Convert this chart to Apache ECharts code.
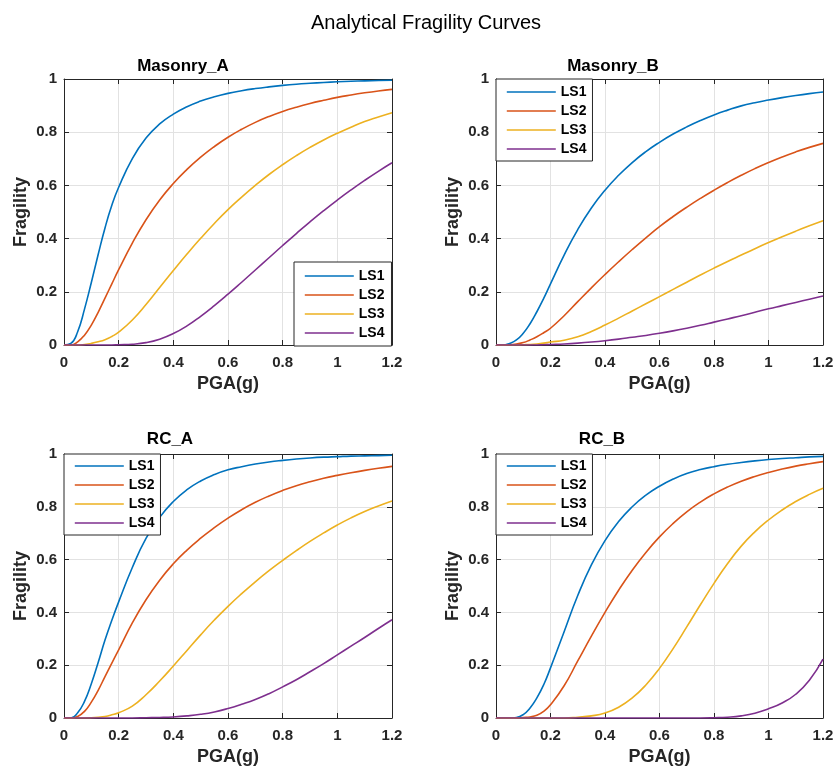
<!DOCTYPE html>
<html>
<head>
<meta charset="utf-8">
<title>Analytical Fragility Curves</title>
<script src="https://cdn.jsdelivr.net/npm/echarts@6/dist/echarts.min.js"></script>
<style>
  html, body { margin: 0; padding: 0; background: #fff; }
  #chart { width: 837px; height: 770px; }
</style>
</head>
<body>
<div id="chart"></div>
<script>
// Peak ground acceleration samples (g), denser where the curves rise steeply
const pga = [0, 0.025, 0.05, 0.075, 0.1, 0.125, 0.15, 0.175, 0.2, 0.25, 0.3, 0.35, 0.4, 0.45, 0.5,
  0.55, 0.6, 0.65, 0.7, 0.75, 0.8, 0.85, 0.9, 0.95, 1.0, 1.05, 1.1, 1.15, 1.2];

const limitStates = ['LS1', 'LS2', 'LS3', 'LS4'];
const panelTitles = ['Masonry_A', 'Masonry_B', 'RC_A', 'RC_B'];

// Masonry_A
const masonryA_LS1 = [0, .006, .05, .135, .235, .34, .44, .525, .593, .701, .778, .831, .868, .896, .917, .933, .946, .956, .964, .9705, .976, .9805, .984, .987, .9895, .9915, .993, .9942, .9952];
const masonryA_LS2 = [0, 0, .012, .037, .075, .123, .176, .23, .283, .383, .471, .545, .607, .66, .706, .746, .781, .811, .837, .859, .878, .894, .908, .92, .931, .94, .948, .955, .961];
const masonryA_LS3 = [0, 0, 0, .002, .006, .012, .02, .032, .048, .094, .152, .216, .28, .342, .401, .457, .509, .556, .6, .641, .678, .712, .743, .771, .796, .819, .84, .857, .873];
const masonryA_LS4 = [0, 0, 0, 0, 0, 0, 0, 0, .001, .003, .009, .022, .043, .072, .108, .148, .191, .236, .282, .328, .374, .419, .463, .505, .545, .583, .619, .653, .685];

// Masonry_B
const masonryB_LS1 = [0, 0, .006, .019, .044, .08, .125, .175, .23, .338, .434, .515, .582, .638, .686, .727, .762, .793, .82, .844, .865, .883, .899, .911, .921, .93, .938, .945, .951];
const masonryB_LS2 = [0, 0, .001, .004, .009, .019, .031, .046, .063, .11, .163, .215, .265, .313, .359, .403, .445, .483, .518, .551, .582, .611, .638, .663, .686, .707, .726, .743, .758];
const masonryB_LS3 = [0, 0, 0, 0, .001, .002, .004, .007, .011, .018, .031, .051, .075, .101, .128, .155, .182, .209, .236, .263, .289, .314, .338, .362, .385, .407, .428, .448, .467];
const masonryB_LS4 = [0, 0, 0, 0, 0, 0, 0, .001, .002, .004, .007, .011, .016, .022, .029, .036, .044, .053, .063, .074, .086, .098, .11, .123, .136, .148, .16, .172, .184];

// RC_A
const rcA_LS1 = [0, 0, .02, .063, .13, .21, .295, .37, .44, .57, .68, .76, .82, .865, .898, .922, .94, .952, .962, .97, .976, .981, .985, .988, .99, .992, .993, .994, .995];
const rcA_LS2 = [0, 0, .006, .025, .06, .105, .157, .208, .258, .36, .448, .522, .584, .636, .681, .721, .757, .789, .817, .841, .862, .88, .895, .908, .919, .929, .938, .946, .953];
const rcA_LS3 = [0, 0, 0, 0, .001, .003, .006, .012, .02, .045, .088, .14, .197, .256, .315, .371, .423, .471, .516, .558, .597, .634, .669, .701, .731, .758, .782, .803, .822];
const rcA_LS4 = [0, 0, 0, 0, 0, 0, 0, 0, 0, 0, .001, .002, .004, .008, .014, .023, .036, .052, .07, .092, .118, .145, .175, .206, .239, .272, .305, .339, .372];

// RC_B
const rcB_LS1 = [0, 0, 0, .002, .013, .038, .076, .126, .19, .327, .464, .58, .672, .744, .8, .844, .878, .905, .926, .941, .952, .961, .968, .974, .979, .983, .986, .989, .991];
const rcB_LS2 = [0, 0, 0, 0, .002, .004, .01, .025, .05, .122, .216, .31, .4, .484, .56, .627, .686, .737, .781, .818, .849, .875, .897, .915, .93, .943, .954, .963, .971];
const rcB_LS3 = [0, 0, 0, 0, 0, 0, 0, 0, 0, 0, .003, .008, .019, .041, .076, .125, .188, .263, .345, .429, .51, .585, .651, .705, .75, .788, .82, .847, .87];
const rcB_LS4 = [0, 0, 0, 0, 0, 0, 0, 0, 0, 0, 0, 0, 0, 0, 0, 0, 0, 0, 0, 0, .001, .003, .008, .018, .035, .057, .09, .143, .223];

const panelCurves = [
  [masonryA_LS1, masonryA_LS2, masonryA_LS3, masonryA_LS4],
  [masonryB_LS1, masonryB_LS2, masonryB_LS3, masonryB_LS4],
  [rcA_LS1, rcA_LS2, rcA_LS3, rcA_LS4],
  [rcB_LS1, rcB_LS2, rcB_LS3, rcB_LS4]
];

const lineColors = ['#0072BD', '#D95319', '#EDB120', '#7E2F8E'];
const axisColor = '#262626';
const gridColor = '#e2e2e2';
const fontFamily = '"Liberation Sans", Arial, Helvetica, sans-serif';

// Plot rectangles for the 2x2 layout
const grids = [
  { left: 64, top: 79, width: 328, height: 266 },
  { left: 496, top: 79, width: 327, height: 266 },
  { left: 64, top: 454, width: 328, height: 264 },
  { left: 496, top: 454, width: 327, height: 264 }
];

// Legend boxes
const legends = [
  { left: 294, top: 262, padding: [7, 7, 6, 10] },
  { left: 496, top: 79, padding: [6, 6, 5, 10] },
  { left: 64, top: 454, padding: [5, 6, 5, 10] },
  { left: 496, top: 454, padding: [5, 6, 5, 10] }
];

const subTitleX = [183, 613, 170, 602];
const subTitleY = [58, 58, 431, 431];

const fmt = v => String(+v.toFixed(1));

const option = {
  animation: false,
  backgroundColor: '#fff',
  title: [{
    text: 'Analytical Fragility Curves',
    left: 426, top: 13, textAlign: 'center', padding: 0,
    textStyle: { fontFamily, fontSize: 20, fontWeight: 'normal', color: '#000' }
  }],
  grid: [],
  xAxis: [],
  yAxis: [],
  legend: [],
  series: []
};

grids.forEach((g, i) => {
  option.grid.push(Object.assign({ show: false, containLabel: false }, g));

  option.title.push({
    text: panelTitles[i],
    left: subTitleX[i], top: subTitleY[i], textAlign: 'center', padding: 0,
    textStyle: { fontFamily, fontSize: 17, fontWeight: 'bold', color: '#000' }
  });

  const tickStyle = { show: true, inside: true, length: 5, lineStyle: { color: axisColor, width: 1 } };
  const lineStyle = { show: true, onZero: false, lineStyle: { color: axisColor, width: 1 } };
  const labelStyle = { fontFamily, fontSize: 15, fontWeight: 'bold', color: '#262626' };

  // x axis along the bottom edge
  option.xAxis.push({
    type: 'value', gridIndex: i, min: 0, max: 1.2, interval: 0.2, position: 'bottom',
    name: 'PGA(g)', nameLocation: 'middle', nameGap: 30,
    nameTextStyle: { fontFamily, fontSize: 18, fontWeight: 'bold', color: '#262626' },
    axisLine: lineStyle, axisTick: tickStyle,
    axisLabel: Object.assign({ margin: 10, formatter: fmt }, labelStyle),
    splitLine: { show: true, lineStyle: { color: gridColor, width: 1 } }
  });
  // mirrored x axis on top closes the box
  option.xAxis.push({
    type: 'value', gridIndex: i, min: 0, max: 1.2, interval: 0.2, position: 'top',
    axisLine: lineStyle, axisTick: tickStyle, axisLabel: { show: false }, splitLine: { show: false }
  });
  // y axis on the left edge
  option.yAxis.push({
    type: 'value', gridIndex: i, min: 0, max: 1, interval: 0.2, position: 'left',
    name: 'Fragility', nameLocation: 'middle', nameGap: 34, nameRotate: 90,
    nameTextStyle: { fontFamily, fontSize: 18, fontWeight: 'bold', color: '#262626' },
    axisLine: lineStyle, axisTick: tickStyle,
    axisLabel: Object.assign({ margin: 7, formatter: fmt }, labelStyle),
    splitLine: { show: true, lineStyle: { color: gridColor, width: 1 } }
  });
  // mirrored y axis on the right
  option.yAxis.push({
    type: 'value', gridIndex: i, min: 0, max: 1, interval: 0.2, position: 'right',
    axisLine: lineStyle, axisTick: tickStyle, axisLabel: { show: false }, splitLine: { show: false }
  });

  panelCurves[i].forEach((ys, k) => {
    option.series.push({
      id: 'p' + i + '_' + limitStates[k],
      name: limitStates[k],
      type: 'line',
      xAxisIndex: 2 * i,
      yAxisIndex: 2 * i,
      data: pga.map((x, j) => [x, ys[j]]),
      showSymbol: false,
      symbol: 'none',
      smooth: 0.5,
      color: lineColors[k],
      lineStyle: { color: lineColors[k], width: 1.6 },
      z: 2
    });
  });

  option.legend.push(Object.assign({
    orient: 'vertical',
    data: limitStates,
    itemWidth: 49,
    itemHeight: 14,
    itemGap: 5,
    itemTextGap: 6,
    itemStyle: { opacity: 0 },
    lineStyle: { width: 1.6 },
    backgroundColor: '#fff',
    borderColor: axisColor,
    borderWidth: 1,
    borderRadius: 0,
    selectedMode: false,
    textStyle: { fontFamily, fontSize: 14, fontWeight: 'bold', color: '#000' },
    z: 10
  }, legends[i]));
});

const chart = echarts.init(document.getElementById('chart'), null, { renderer: 'canvas' });
chart.setOption(option);
</script>
</body>
</html>
